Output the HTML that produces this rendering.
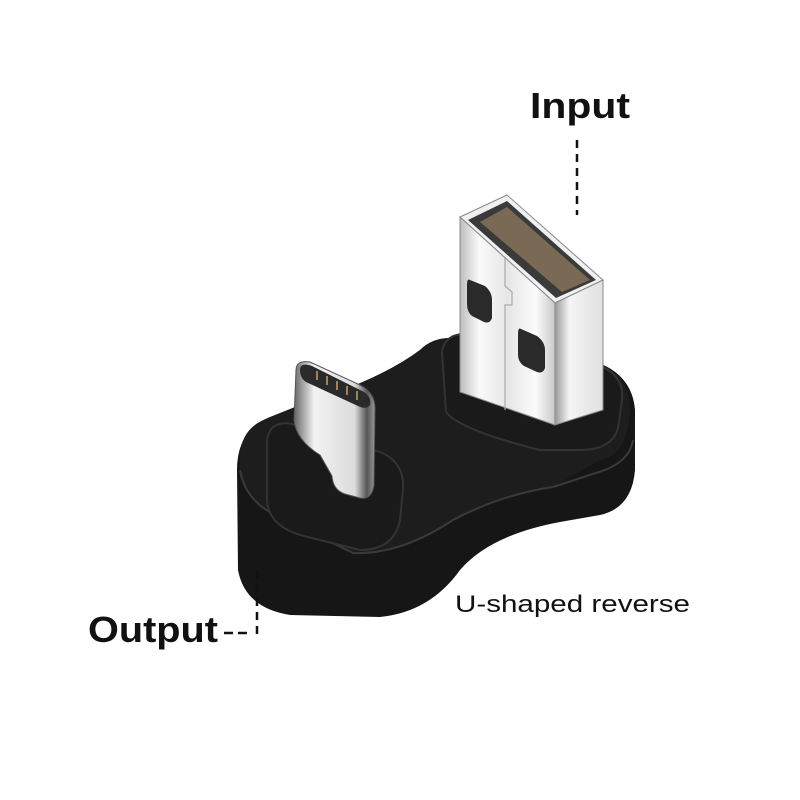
<!DOCTYPE html>
<html><head><meta charset="utf-8"><style>
html,body{margin:0;padding:0;background:#fff;}
svg{display:block}
text{font-family:"Liberation Sans","DejaVu Sans",sans-serif;fill:#111}
</style></head><body>
<svg width="800" height="800" viewBox="0 0 800 800" xmlns="http://www.w3.org/2000/svg">
<defs>
<linearGradient id="silver" x1="0" y1="0" x2="1" y2="0">
<stop offset="0" stop-color="#bdbdbd"/><stop offset="0.2" stop-color="#fafafa"/>
<stop offset="0.5" stop-color="#e6e6e6"/><stop offset="0.8" stop-color="#fbfbfb"/><stop offset="1" stop-color="#c8c8c8"/>
</linearGradient>
<linearGradient id="side" x1="0" y1="0" x2="1" y2="0">
<stop offset="0" stop-color="#9a9a9a"/><stop offset="0.3" stop-color="#f5f5f5"/><stop offset="1" stop-color="#e0e0e0"/>
</linearGradient>
<linearGradient id="cgrad" x1="0" y1="0" x2="1" y2="0">
<stop offset="0" stop-color="#666"/><stop offset="0.25" stop-color="#f2f2f2"/>
<stop offset="0.75" stop-color="#dcdcdc"/><stop offset="0.9" stop-color="#555"/><stop offset="1" stop-color="#999"/>
</linearGradient>
</defs>
<!-- body overall -->
<path d="M237 470 Q237 430 270 417 L300 405 Q380 380 420 350 Q432 338 450 338 L590 360 Q632 372 635 410 L635 470 Q632 508 600 515 L560 522 Q490 535 460 570 Q430 612 380 617 L290 615 Q245 608 238 570 Z" fill="#161616"/>
<!-- top surface (slightly lighter) -->
<path d="M240 455 Q242 425 272 417 L300 405 Q380 380 420 350 Q432 338 450 338 L590 360 Q630 372 630 410 Q628 455 600 460 L553 487 Q490 500 453 520 Q400 555 353 553 L280 520 Q245 500 240 470 Z" fill="#1d1d1d"/>
<path d="M240 470 Q245 500 275 515 L353 553 Q400 555 453 520 Q500 495 553 487 L605 470 Q630 460 633 440" fill="none" stroke="#3a3a3a" stroke-width="2"/>
<!-- collar usb-c -->
<path d="M267 440 Q270 420 292 424 L380 452 Q405 462 403 490 L400 520 Q394 550 360 550 L300 535 Q268 525 267 500 Z" fill="#1a1a1a" stroke="#333" stroke-width="2"/>
<!-- collar usb-a -->
<path d="M442 352 Q445 332 470 334 L590 362 Q625 372 622 400 L618 428 Q612 450 580 450 L540 450 Q460 430 446 412 Z" fill="#1a1a1a" stroke="#333" stroke-width="2"/>
<!-- USB-A plug: top opening -->
<path d="M460 217 L507 195 L603 280 L555 303 Z" fill="#f0f0f0" stroke="#888"/>
<path d="M468 220 L507 201 L596 280 L556 298 Z" fill="#3a3a3a"/>
<path d="M480 222 L507 207 L590 280 L562 292 Z" fill="#7a6a55"/>
<!-- front face -->
<path d="M460 217 L555 303 L555 425 L460 392 Z" fill="url(#silver)" stroke="#888"/>
<!-- right face -->
<path d="M555 303 L603 280 L603 410 L555 425 Z" fill="url(#side)" stroke="#888"/>
<polyline points="505,258 505,286 512,292 512,305 505,305 505,410" fill="none" stroke="#aaa" stroke-width="1.2"/>
<path d="M470 280 L485 286 Q492 292 492 300 L492 318 Q490 324 484 322 L472 316 Q467 312 467 304 L467 285 Q467 278 470 280 Z" fill="#2a2a2a"/>
<path d="M521 329 L537 336 Q545 342 545 350 L545 368 Q543 374 537 372 L524 366 Q518 362 518 354 L518 334 Q518 327 521 329 Z" fill="#2a2a2a"/>
<!-- USB-C plug -->
<path d="M296 370 Q296 360 310 362 L360 385 Q375 393 375 408 L374 485 Q372 500 360 498 L345 494 Q333 490 332 476 L320 455 Q296 440 294 420 Z" fill="url(#cgrad)" stroke="#555"/>
<path d="M300 370 Q300 362 312 366 L364 392 Q372 398 370 405 Q366 410 358 406 L306 382 Q300 378 300 370 Z" fill="#2a2a2a"/>
<g stroke="#c8a070" stroke-width="1.5"><line x1="317" y1="371" x2="317" y2="380"/><line x1="327" y1="376" x2="327" y2="385"/><line x1="337" y1="381" x2="337" y2="390"/><line x1="347" y1="386" x2="347" y2="395"/><line x1="357" y1="391" x2="357" y2="400"/></g>
<!-- labels -->
<text x="530" y="118" font-size="36" font-weight="bold" textLength="100" lengthAdjust="spacingAndGlyphs">Input</text>
<line x1="577" y1="140" x2="577" y2="215" stroke="#111" stroke-width="2.5" stroke-dasharray="8 6"/>
<text x="88" y="642" font-size="36" font-weight="bold" textLength="130" lengthAdjust="spacingAndGlyphs">Output</text>
<line x1="224" y1="633" x2="252" y2="633" stroke="#111" stroke-width="2.5" stroke-dasharray="9 5"/>
<line x1="257" y1="570" x2="257" y2="635" stroke="#111" stroke-width="2.5" stroke-dasharray="8 6"/>
<text x="455" y="612" font-size="24" textLength="235" lengthAdjust="spacingAndGlyphs">U-shaped reverse</text>
</svg>
</body></html>
